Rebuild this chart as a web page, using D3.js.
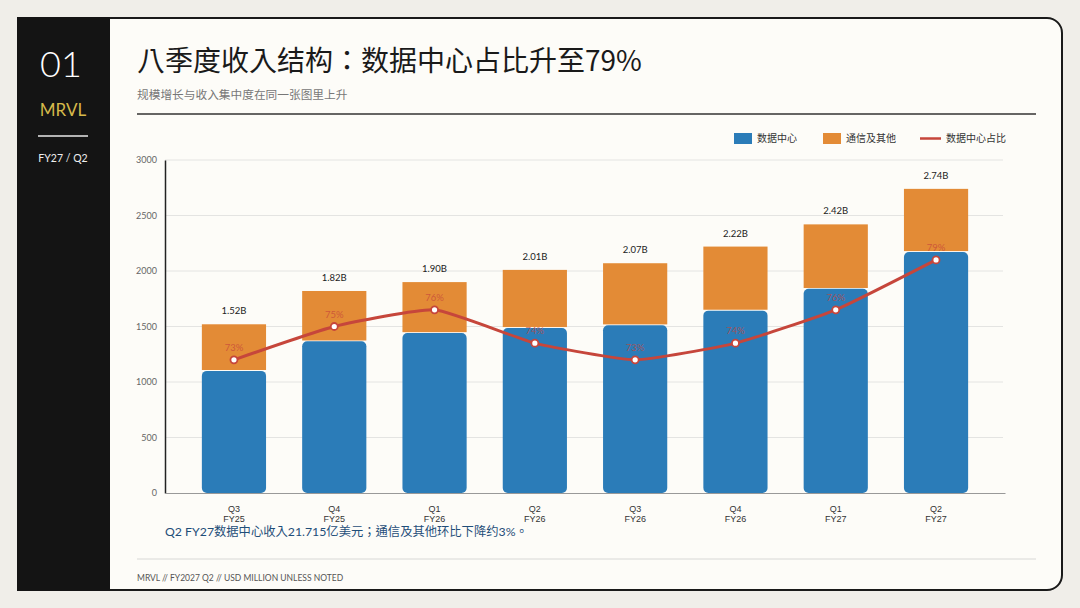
<!DOCTYPE html>
<html><head><meta charset="utf-8">
<script src="https://cdn.jsdelivr.net/npm/d3@7"></script>
<style>
html,body{margin:0;padding:0;background:#f0eee9;}
svg{display:block;font-family:"Lato","Noto Sans CJK SC",sans-serif;}
</style></head>
<body><svg id="c" width="1080" height="608"></svg>
<script>
const quarters = ["Q3","Q4","Q1","Q2","Q3","Q4","Q1","Q2"];
const fiscalYears = ["FY25","FY25","FY26","FY26","FY26","FY26","FY27","FY27"];
const dataCenter = [1100, 1366, 1441, 1487, 1511, 1643, 1839, 2171.5];
const totalRevenue = [1520, 1820, 1900, 2010, 2070, 2220, 2420, 2740];
const totalLabels = ["1.52B","1.82B","1.90B","2.01B","2.07B","2.22B","2.42B","2.74B"];
const dcShare = [73, 75, 76, 74, 73, 74, 76, 79];
const yTicks = [0, 500, 1000, 1500, 2000, 2500, 3000];
const seriesNames = ["数据中心","通信及其他","数据中心占比"];

const C = {blue:"#2b7cb8", orange:"#e38b36", red:"#c6463b"};
const svg = d3.select("#c");

// card
svg.append("rect").attr("x",18).attr("y",18).attr("width",1044).attr("height",572)
  .attr("rx",15).attr("fill","#fdfcf8").attr("stroke","#1a1a1a").attr("stroke-width",2);
svg.append("rect").attr("x",17).attr("y",17).attr("width",93).attr("height",574).attr("fill","#141414");

// left panel
svg.append("text").attr("x",61).attr("y",77).attr("text-anchor","middle").attr("fill","#fff")
  .attr("font-size",36).attr("font-weight",300).text("01");
svg.append("text").attr("x",63).attr("y",116).attr("text-anchor","middle").attr("fill","#d6b94a")
  .attr("font-size",17).text("MRVL");
svg.append("line").attr("x1",38).attr("x2",88).attr("y1",136).attr("y2",136).attr("stroke","#e8e8e8").attr("stroke-width",1.5);
svg.append("text").attr("x",63).attr("y",162).attr("text-anchor","middle").attr("fill","#eee")
  .attr("font-size",10.5).text("FY27 / Q2");

// header
svg.append("text").attr("x",137).attr("y",71).attr("fill","#1a1a1a").attr("font-size",28)
  .attr("font-family","'Noto Sans CJK TC',sans-serif")
  .text("八季度收入结构：数据中心占比升至79%");
svg.append("text").attr("x",137).attr("y",99).attr("fill","#777").attr("font-size",11.7)
  .attr("font-family","'Noto Sans CJK SC',sans-serif")
  .text("规模增长与收入集中度在同一张图里上升");
svg.append("line").attr("x1",137).attr("x2",1036).attr("y1",114).attr("y2",114).attr("stroke","#333").attr("stroke-width",1.5);

// scales
const x = d3.scaleBand().domain(d3.range(quarters.length)).range([165,1005]).paddingInner(0.36).paddingOuter(0.3675);
const y = d3.scaleLinear().domain([0,3000]).range([493,160]);
const y2 = d3.scaleLinear().domain([65,85]).range([493,160]);

// grid
const g = svg.append("g");
g.selectAll("line.grid").data(yTicks.filter(d=>d>0)).join("line")
  .attr("x1",165).attr("x2",1003).attr("y1",d=>y(d)).attr("y2",d=>y(d))
  .attr("stroke","#e4e4e2").attr("stroke-width",1);

// y axis
const yAxis = svg.append("g").attr("transform","translate(165,0)")
  .call(d3.axisLeft(y).tickValues(yTicks).tickFormat(d3.format("d")).tickSize(0).tickPadding(8));
yAxis.select(".domain").attr("stroke","#222").attr("stroke-width",1.5);
yAxis.selectAll("text").attr("fill","#666").attr("font-size",9).attr("font-family","Lato, sans-serif");

// x axis
const xAxis = svg.append("g").attr("transform","translate(0,493)")
  .call(d3.axisBottom(x).tickSize(0).tickFormat(()=>""));
xAxis.select(".domain").attr("stroke","#999").attr("stroke-width",1);
xAxis.selectAll(".tick text").remove();
const xt = xAxis.selectAll(".tick").append("text").attr("fill","#333").attr("font-size",9).attr("text-anchor","middle");
xt.append("tspan").attr("x",0).attr("y",19).text(d=>quarters[d]);
xt.append("tspan").attr("x",0).attr("y",29).text(d=>fiscalYears[d]);

// bars
const bars = svg.append("g");
bars.selectAll("rect.o").data(d3.range(quarters.length)).join("rect")
  .attr("x",i=>x(i)).attr("width",x.bandwidth())
  .attr("y",i=>y(totalRevenue[i])).attr("height",i=>y(dataCenter[i]+8)-y(totalRevenue[i]))
  .attr("fill",C.orange);
bars.selectAll("rect.b").data(d3.range(quarters.length)).join("rect")
  .attr("x",i=>x(i)).attr("width",x.bandwidth())
  .attr("y",i=>y(dataCenter[i])).attr("height",i=>y(0)-y(dataCenter[i]))
  .attr("rx",5).attr("fill",C.blue);

// total labels
svg.append("g").selectAll("text").data(d3.range(quarters.length)).join("text")
  .attr("x",i=>x(i)+x.bandwidth()/2).attr("y",i=>y(totalRevenue[i])-10)
  .attr("text-anchor","middle").attr("font-size",9.5).attr("fill","#222").text(i=>totalLabels[i]);

// line
const line = d3.line().x((d,i)=>x(i)+x.bandwidth()/2).y(d=>y2(d)).curve(d3.curveCardinal.tension(0.55));
svg.append("path").datum(dcShare).attr("d",line).attr("fill","none").attr("stroke",C.red).attr("stroke-width",3);
svg.append("g").selectAll("circle").data(dcShare).join("circle")
  .attr("cx",(d,i)=>x(i)+x.bandwidth()/2).attr("cy",d=>y2(d)).attr("r",3.5)
  .attr("fill","#fff").attr("stroke",C.red).attr("stroke-width",1.8);
svg.append("g").selectAll("text").data(dcShare).join("text")
  .attr("x",(d,i)=>x(i)+x.bandwidth()/2).attr("y",d=>y2(d)-9)
  .attr("text-anchor","middle").attr("font-size",9.5).attr("fill",C.red).attr("fill-opacity",0.75)
  .text(d=>d+"%");

// legend
const lg = svg.append("g").attr("font-size",10).attr("fill","#333");
lg.append("rect").attr("x",734).attr("y",133).attr("width",18).attr("height",11).attr("fill",C.blue);
lg.append("text").attr("x",757).attr("y",142).text(seriesNames[0]);
lg.append("rect").attr("x",823).attr("y",133).attr("width",18).attr("height",11).attr("fill",C.orange);
lg.append("text").attr("x",846).attr("y",142).text(seriesNames[1]);
lg.append("line").attr("x1",920).attr("x2",941).attr("y1",138.5).attr("y2",138.5).attr("stroke",C.red).attr("stroke-width",2.5);
lg.append("text").attr("x",946).attr("y",142).text(seriesNames[2]);

// annotation
svg.append("text").attr("x",165).attr("y",536).attr("fill","#1f4e79").attr("font-size",12.3)
  .attr("font-family","Lato,'Noto Sans CJK TC',sans-serif")
  .text("Q2 FY27数据中心收入21.715亿美元；通信及其他环比下降约3%。");

// footer
svg.append("line").attr("x1",137).attr("x2",1036).attr("y1",559).attr("y2",559).attr("stroke","#d8d8d6").attr("stroke-width",1);
svg.append("text").attr("x",137).attr("y",581).attr("fill","#555").attr("font-size",8.5)
  .text("MRVL // FY2027 Q2 // USD MILLION UNLESS NOTED");
</script></body></html>
